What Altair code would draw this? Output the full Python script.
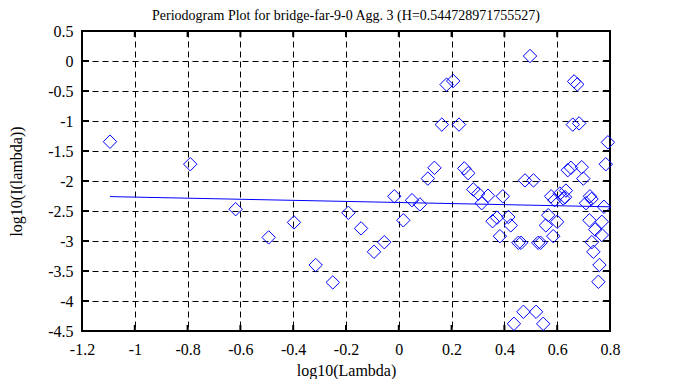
import altair as alt
import pandas as pd

# log10(Lambda) and log10(I(lambda)) values
pt_x = [-1.094, -0.79, -0.618, -0.493, -0.397, -0.315, -0.25, -0.191, -0.143, -0.094,
        -0.055, -0.017, 0.017, 0.05, 0.08, 0.11, 0.135, 0.163, 0.181, 0.206,
        0.228, 0.248, 0.263, 0.282, 0.301, 0.314, 0.338, 0.355, 0.372, 0.394,
        0.383, 0.415, 0.424, 0.453, 0.463, 0.528, 0.537, 0.436, 0.472, 0.52,
        0.547, 0.478, 0.497, 0.51, 0.577, 0.61, 0.633, 0.623, 0.566, 0.557,
        0.6, 0.585, 0.64, 0.652, 0.693, 0.699, 0.664, 0.676, 0.659, 0.683,
        0.792, 0.784, 0.724, 0.709, 0.777, 0.722, 0.769, 0.744, 0.769, 0.731,
        0.737, 0.76, 0.756, 0.59, 0.63, 0.73]
pt_y = [-1.345, -1.72, -2.47, -2.94, -2.69, -3.40, -3.69, -2.53, -2.79, -3.18,
        -3.02, -2.255, -2.655, -2.32, -2.39, -1.96, -1.78, -1.06, -0.393, -0.333,
        -1.06, -1.79, -1.87, -2.14, -2.21, -2.37, -2.245, -2.67, -2.61, -2.255,
        -2.92, -2.60, -2.74, -3.03, -3.03, -3.03, -3.03, -4.38, -4.18, -4.18,
        -4.38, -1.99, 0.083, -1.99, -2.255, -2.21, -2.16, -2.29, -2.57, -2.74,
        -2.68, -2.92, -1.82, -1.78, -1.77, -1.96, -0.34, -0.39, -1.06, -1.04,
        -1.355, -1.72, -2.255, -2.37, -2.43, -2.655, -2.68, -2.81, -2.90, -3.02,
        -3.18, -3.40, -3.68, -2.32, -2.27, -2.30]

# fitted line end points
line_x = [-1.094, 0.8]
line_y = [-2.26, -2.43]

x_ticks = [-1.2, -1.0, -0.8, -0.6, -0.4, -0.2, 0, 0.2, 0.4, 0.6, 0.8]
y_ticks = [-4.5, -4.0, -3.5, -3.0, -2.5, -2.0, -1.5, -1.0, -0.5, 0, 0.5]

W, H = 528, 300
FONT = "Liberation Serif"
BLUE = "#0000ff"

xs = alt.Scale(domain=[-1.2, 0.8], nice=False, zero=False)
ys = alt.Scale(domain=[-4.5, 0.5], nice=False, zero=False)

x_axis = alt.Axis(
    values=x_ticks, title="log10(Lambda)", grid=True, gridDash=[6, 4],
    gridColor="black", gridOpacity=1, gridWidth=1, ticks=False, domain=False,
    labelFlush=False, labelExpr="'' + datum.value", labelPadding=10, titlePadding=5)
y_axis = alt.Axis(
    values=y_ticks, title="log10(I(lambda))", grid=True, gridDash=[6, 4],
    gridColor="black", gridOpacity=1, gridWidth=1, ticks=False, domain=False,
    labelFlush=False, labelExpr="'' + datum.value", labelPadding=9, titlePadding=23)

pts_df = pd.DataFrame({"x": pt_x, "y": pt_y})
line_df = pd.DataFrame({"x": line_x, "y": line_y})
xt_df = pd.DataFrame({"x": x_ticks})
yt_df = pd.DataFrame({"y": y_ticks})

X = alt.X("x:Q", scale=xs, axis=x_axis)
Y = alt.Y("y:Q", scale=ys, axis=y_axis)

points = alt.Chart(pts_df).mark_point(
    shape="diamond", size=180, filled=False, color=BLUE, strokeWidth=1, opacity=1
).encode(x=X, y=Y)

fit = alt.Chart(line_df).mark_line(color=BLUE, strokeWidth=1).encode(x=X, y=Y)

tick_style = dict(color="black", strokeWidth=2)
xb = alt.Chart(xt_df).mark_rule(**tick_style).encode(
    x=X, y=alt.value(H), y2=alt.value(H - 6))
xtp = alt.Chart(xt_df).mark_rule(**tick_style).encode(
    x=X, y=alt.value(0), y2=alt.value(6))
yl = alt.Chart(yt_df).mark_rule(**tick_style).encode(
    y=Y, x=alt.value(0), x2=alt.value(7))
yr = alt.Chart(yt_df).mark_rule(**tick_style).encode(
    y=Y, x=alt.value(W), x2=alt.value(W - 7))

chart = alt.layer(points, fit, xb, xtp, yl, yr).properties(
    width=W, height=H,
    background="white",
    title=alt.Title("Periodogram Plot for bridge-far-9-0 Agg. 3 (H=0.544728971755527)",
                    font=FONT, fontSize=14, fontWeight="normal", color="black", offset=0),
    autosize=alt.AutoSizeParams(type="none"),
    padding={"left": 74, "top": 23, "right": 55, "bottom": 48},
).configure_view(
    stroke="black", strokeWidth=2
).configure_axis(
    labelFont=FONT, labelFontSize=16, labelColor="black",
    titleFont=FONT, titleFontSize=16, titleFontWeight="normal", titleColor="black",
)

chart.save("out.html", embed_options={"renderer": "svg", "actions": False})
